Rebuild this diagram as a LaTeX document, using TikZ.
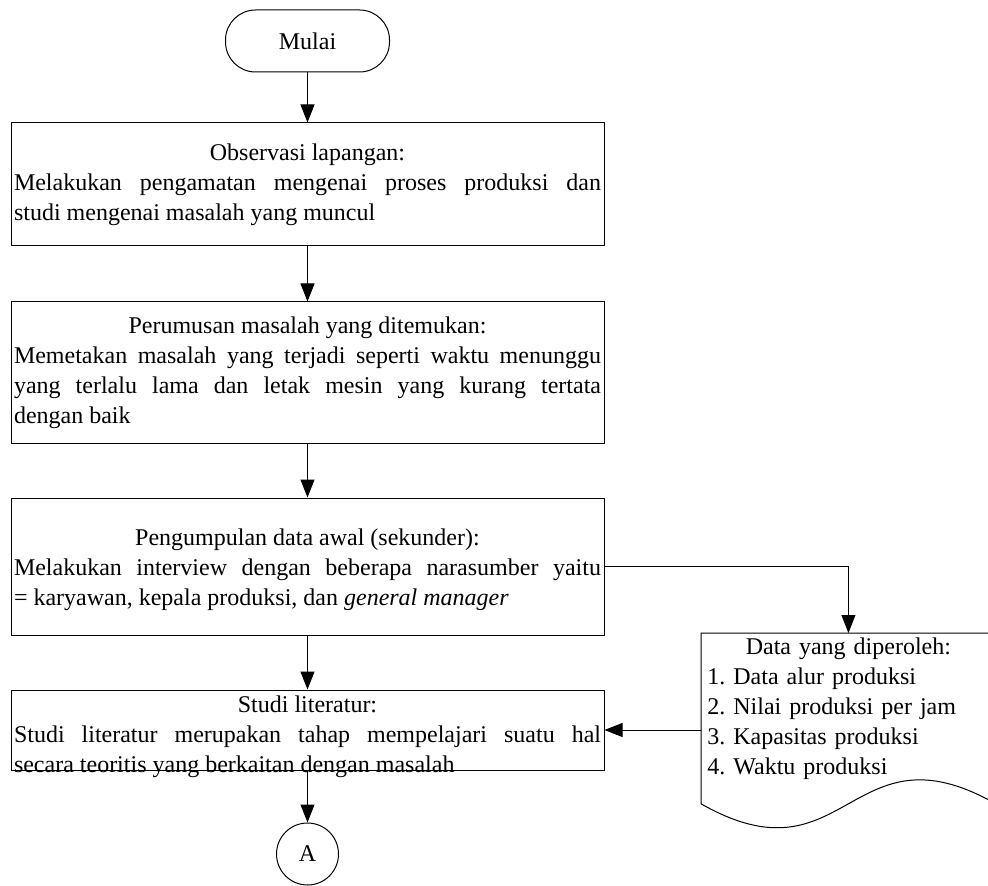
\documentclass[tikz,border=0pt]{standalone}
\usepackage{fontspec}
\setmainfont{Liberation Serif}
\usetikzlibrary{arrows.meta}

\begin{document}
\begin{tikzpicture}[x=0.5pt,y=0.5pt]
		\tikzstyle{every node}+=[inner sep=0pt, font=\fontsize{12}{15}\selectfont\frenchspacing]
		\tikzstyle{terminal}=[draw=black, line width=0.5pt, rounded corners=15pt, minimum width=82pt, minimum height=31pt]
		\tikzstyle{process}=[draw=black, line width=0.5pt, text width=293.5pt, inner xsep=1.5pt, align=justify]
		\tikzstyle{connector}=[draw=black, line width=0.5pt, circle, minimum size=31pt]
		\tikzstyle{flow}=[black, line width=0.5pt, -{Triangle[length=9pt,width=7pt]}]
		\path [use as bounding box] (0,0) rectangle (988,-886);
		\clip (0,0) rectangle (988,-886);
		\node [terminal] (mulai) at (307.5,-41) {Mulai};
		\node [process, minimum height=61.5pt] (observasi) at (307.5,-184.5) {{\centering Observasi lapangan:\par}Melakukan pengamatan mengenai proses produksi dan\linebreak studi mengenai masalah yang muncul};
		\node [process, minimum height=71pt] (perumusan) at (307.5,-373) {{\centering Perumusan masalah yang ditemukan:\par}Memetakan masalah yang terjadi seperti waktu menunggu\linebreak yang terlalu lama dan letak mesin yang kurang tertata\linebreak dengan baik};
		\node [process, minimum height=68.5pt] (pengumpulan) at (307.5,-566.5) {{\centering\rule{0pt}{12pt}Pengumpulan data awal (sekunder):\par}Melakukan interview dengan beberapa narasumber yaitu\linebreak = karyawan, kepala produksi, dan \textit{general manager}};
		\node [process, minimum height=40pt] (studi) at (307.5,-730) {};
		\node [text width=293.5pt, align=justify] (studitext) at (307.5,-737) {{\centering Studi literatur:\par}Studi literatur merupakan tahap mempelajari suatu hal\linebreak secara teoritis yang berkaitan dengan masalah};
		\node [connector] (a) at (307.5,-854) {A};
		\node [minimum width=147pt, minimum height=85pt, anchor=north west] (data) at (701,-633) {};
		\node [text width=141pt, align=left, anchor=north] (datalist) at ([yshift=-2pt]data.north) {{\centering Data yang diperoleh:\par}1. Data alur produksi\\2. Nilai produksi per jam\\3. Kapasitas produksi\\4. Waktu produksi};
		\draw [black, line width=0.5pt] (data.south west) -- (data.north west) -- (data.north east) -- (data.south east) .. controls ([shift={(-146,83)}]data.south east) and ([shift={(146,-83)}]data.south west) .. (data.south west);
		\draw [flow] (mulai) -- (observasi);
		\draw [flow] (observasi) -- (perumusan);
		\draw [flow] (perumusan) -- (pengumpulan);
		\draw [flow] (pengumpulan) -- (studi);
		\draw [flow] (studi) -- (a);
		\draw [flow] (pengumpulan.east) -| (data.north);
		\draw [flow] (data.west |- studi.east) -- (studi.east);
	\end{tikzpicture}
\end{document}
